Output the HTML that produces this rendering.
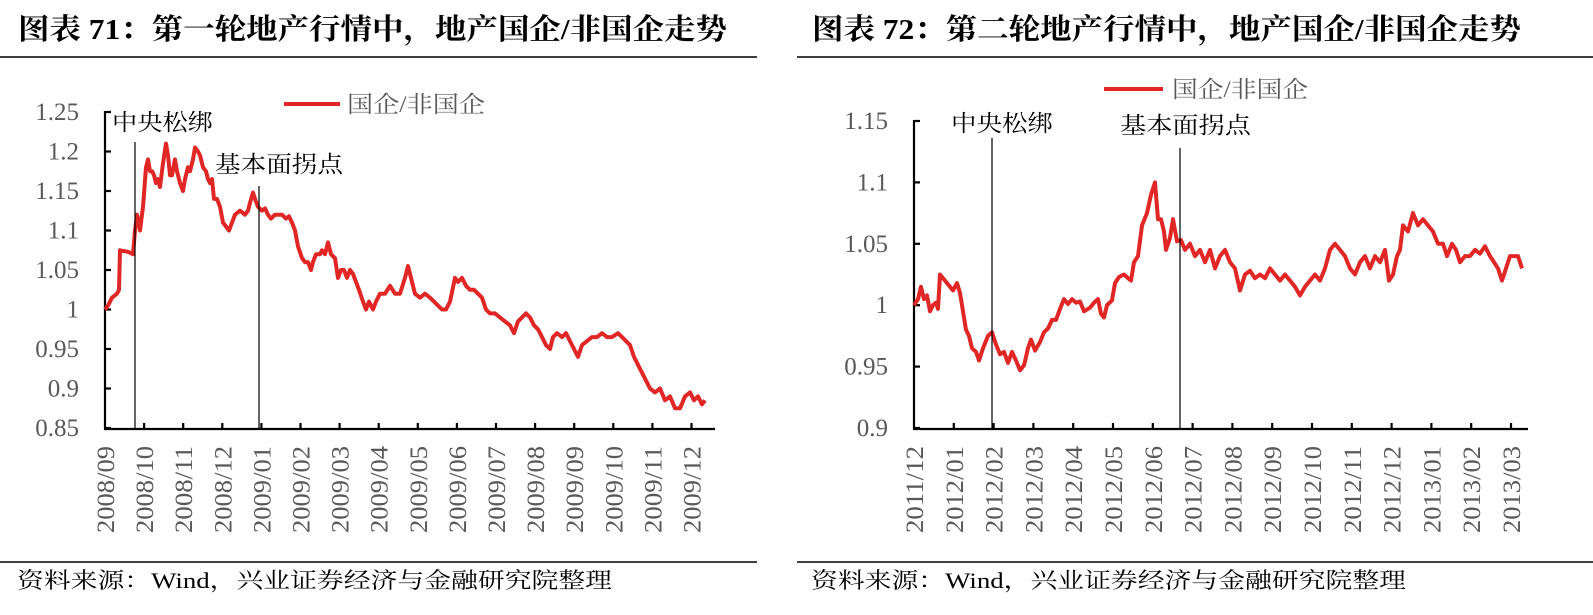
<!DOCTYPE html><html><head><meta charset="utf-8"><style>
body{margin:0;background:#fff;width:1593px;height:615px;overflow:hidden}
svg{display:block}
.t{font-family:"Liberation Serif","Noto Serif CJK SC",serif;font-weight:bold;font-size:29px;fill:#000}
.y{font-family:"Liberation Serif",serif;font-size:25px;fill:#595959}
.x{font-family:"Liberation Serif",serif;font-size:25px;fill:#595959}
.a{font-family:"Liberation Serif","Noto Serif CJK SC",serif;font-size:23px;fill:#000}
.l{font-family:"Liberation Serif","Noto Serif CJK SC",serif;font-size:23px;fill:#595959}
.f{font-family:"Liberation Serif","Noto Serif CJK SC",serif;font-size:22px;fill:#000}
</style></head><body>
<svg id="s" width="1593" height="615" xmlns="http://www.w3.org/2000/svg">
<text class="t" x="18" y="39" textLength="709" lengthAdjust="spacingAndGlyphs">图表 71：第一轮地产行情中，地产国企/非国企走势</text>
<text class="t" x="812" y="39" textLength="709" lengthAdjust="spacingAndGlyphs">图表 72：第二轮地产行情中，地产国企/非国企走势</text>
<line x1="0" y1="57" x2="757" y2="57" stroke="#000" stroke-width="1.5"/>
<line x1="797" y1="57" x2="1593" y2="57" stroke="#000" stroke-width="1.5"/>
<line x1="0" y1="562" x2="757" y2="562" stroke="#000" stroke-width="1.5"/>
<line x1="797" y1="562" x2="1593" y2="562" stroke="#000" stroke-width="1.5"/>
<text class="f" x="17" y="588" textLength="595" lengthAdjust="spacingAndGlyphs">资料来源：Wind，兴业证券经济与金融研究院整理</text>
<text class="f" x="811" y="588" textLength="595" lengthAdjust="spacingAndGlyphs">资料来源：Wind，兴业证券经济与金融研究院整理</text>
<g id="g"></g>
<line x1="284" y1="104" x2="340" y2="104" stroke="#e02726" stroke-width="4"/>
<text class="l" x="347" y="112" textLength="138" lengthAdjust="spacingAndGlyphs">国企/非国企</text>
<line x1="1104" y1="89" x2="1163" y2="89" stroke="#e02726" stroke-width="4"/>
<text class="l" x="1172" y="97" textLength="136" lengthAdjust="spacingAndGlyphs">国企/非国企</text>
<text class="a" x="112" y="130" textLength="101" lengthAdjust="spacingAndGlyphs">中央松绑</text>
<text class="a" x="215" y="172" textLength="128" lengthAdjust="spacingAndGlyphs">基本面拐点</text>
<text class="a" x="951" y="131" textLength="102" lengthAdjust="spacingAndGlyphs">中央松绑</text>
<text class="a" x="1120" y="133" textLength="131" lengthAdjust="spacingAndGlyphs">基本面拐点</text>
<line x1="135" y1="142" x2="135" y2="428" stroke="#000" stroke-width="1.2"/>
<line x1="259" y1="186" x2="259" y2="428" stroke="#000" stroke-width="1.2"/>
<line x1="992" y1="138" x2="992" y2="428" stroke="#000" stroke-width="1.2"/>
<line x1="1180" y1="148" x2="1180" y2="428" stroke="#000" stroke-width="1.2"/>
</svg>
<script>
var g=document.getElementById('g'),h='';
function L(a,b,c,d,w){h+='<line x1="'+a+'" y1="'+b+'" x2="'+c+'" y2="'+d+'" stroke="#000" stroke-width="'+(w||2.2)+'"/>';}
function XL(x,t){h+='<text class="x" transform="translate('+(x+9)+',446) rotate(-90)" text-anchor="end" textLength="87" lengthAdjust="spacingAndGlyphs">'+t+'</text>';}
L(105,111,105,429);L(104,429,715,429);
var ly=['1.25','1.2','1.15','1.1','1.05','1','0.95','0.9','0.85'];
for(var i=0;i<9;i++){var y=112+i*39.5;L(105,y,111,y);h+='<text class="y" x="79" y="'+(y+8)+'" text-anchor="end">'+ly[i]+'</text>';}
var lm=['2008/09','2008/10','2008/11','2008/12','2009/01','2009/02','2009/03','2009/04','2009/05','2009/06','2009/07','2009/08','2009/09','2009/10','2009/11','2009/12'];
for(var i=0;i<16;i++){var x=105+i*39.1;if(i>0)L(x,423,x,429);XL(x,lm[i]);}
L(914,120,914,429);L(913,429,1528,429);
var ry=['1.15','1.1','1.05','1','0.95','0.9'];
for(var i=0;i<6;i++){var y=121+i*61.4;L(914,y,920,y);h+='<text class="y" x="888" y="'+(y+8)+'" text-anchor="end">'+ry[i]+'</text>';}
var rm=['2011/12','2012/01','2012/02','2012/03','2012/04','2012/05','2012/06','2012/07','2012/08','2012/09','2012/10','2012/11','2012/12','2013/01','2013/02','2013/03'];
for(var i=0;i<16;i++){var x=914+i*39.8;if(i>0)L(x,423,x,429);XL(x,rm[i]);}
var A=[105,1.0,108,1.005,112,1.015,117,1.02,119,1.025,120,1.075,128,1.073,133,1.07,135,1.10,137,1.12,140,1.10,143,1.13,146,1.18,148,1.19,150,1.175,152,1.175,154,1.17,156,1.16,158,1.165,160,1.155,163,1.185,166,1.21,168,1.195,170,1.17,172,1.17,175,1.19,177,1.175,180,1.16,183,1.15,185,1.165,188,1.18,190,1.175,193,1.19,195,1.205,198,1.2,200,1.195,203,1.18,206,1.175,208,1.165,210,1.16,212,1.165,214,1.14,217,1.14,220,1.13,223,1.11,226,1.105,229,1.10,232,1.11,235,1.12,240,1.125,245,1.12,248,1.125,250,1.135,253,1.148,255,1.14,258,1.13,262,1.125,265,1.128,268,1.12,271,1.115,275,1.12,282,1.12,286,1.115,289,1.118,292,1.11,295,1.10,298,1.08,302,1.065,305,1.06,308,1.06,311,1.05,313,1.06,316,1.07,320,1.07,322,1.075,325,1.07,328,1.085,331,1.07,335,1.065,338,1.04,341,1.05,344,1.05,347,1.04,350,1.05,353,1.045,356,1.035,359,1.025,363,1.01,366,1.0,369,1.01,373,1.0,376,1.01,380,1.02,385,1.02,390,1.03,395,1.02,400,1.02,405,1.04,408,1.055,411,1.04,415,1.02,420,1.015,425,1.02,430,1.015,434,1.01,438,1.005,442,1.0,446,1.0,450,1.01,455,1.04,458,1.035,462,1.04,466,1.03,470,1.025,474,1.025,478,1.02,482,1.015,486,1.0,490,0.995,495,0.995,500,0.99,505,0.985,510,0.98,514,0.97,518,0.985,522,0.99,526,0.995,530,0.99,534,0.98,538,0.975,542,0.965,546,0.955,550,0.95,553,0.965,557,0.97,562,0.965,566,0.97,570,0.96,574,0.95,578,0.94,582,0.955,587,0.96,592,0.965,597,0.965,602,0.97,607,0.965,612,0.965,618,0.97,622,0.965,626,0.96,630,0.955,634,0.94,638,0.93,642,0.92,646,0.91,650,0.9,655,0.895,660,0.9,665,0.885,670,0.89,675,0.875,680,0.875,685,0.89,690,0.895,694,0.885,698,0.89,702,0.88,705,0.885];
var B=[914,1.0,918,1.005,921,1.015,924,1.005,927,1.008,930,0.995,933,1.0,936,1.002,938,0.997,940,1.025,945,1.02,950,1.015,953,1.012,957,1.018,960,1.01,963,0.995,966,0.98,969,0.975,972,0.965,976,0.962,979,0.955,983,0.965,988,0.975,992,0.978,996,0.968,1000,0.96,1004,0.962,1008,0.953,1012,0.962,1016,0.955,1020,0.947,1024,0.951,1028,0.965,1031,0.972,1035,0.963,1040,0.97,1044,0.978,1048,0.981,1052,0.988,1056,0.988,1060,0.997,1064,1.005,1068,1.001,1072,1.005,1076,1.002,1080,1.003,1084,0.995,1090,0.998,1094,1.002,1098,1.005,1101,0.993,1104,0.99,1107,1.0,1112,1.004,1115,1.018,1119,1.023,1124,1.025,1128,1.022,1131,1.02,1134,1.035,1138,1.04,1142,1.065,1147,1.075,1151,1.09,1155,1.1,1158,1.07,1161,1.07,1164,1.06,1166,1.045,1170,1.055,1173,1.07,1177,1.052,1181,1.053,1185,1.045,1190,1.05,1195,1.04,1200,1.045,1205,1.035,1210,1.045,1215,1.03,1220,1.04,1225,1.045,1230,1.035,1235,1.03,1240,1.012,1245,1.025,1250,1.028,1255,1.022,1260,1.025,1265,1.022,1270,1.03,1275,1.025,1280,1.02,1285,1.025,1290,1.02,1295,1.015,1300,1.008,1305,1.015,1310,1.02,1315,1.025,1320,1.02,1325,1.03,1330,1.045,1335,1.05,1340,1.045,1345,1.04,1350,1.03,1355,1.025,1360,1.035,1365,1.04,1370,1.03,1375,1.04,1380,1.035,1385,1.045,1389,1.02,1393,1.025,1397,1.04,1400,1.045,1403,1.065,1408,1.06,1413,1.075,1418,1.065,1423,1.07,1428,1.065,1433,1.06,1438,1.05,1443,1.05,1447,1.04,1452,1.05,1456,1.045,1460,1.035,1465,1.04,1470,1.04,1475,1.045,1480,1.042,1485,1.048,1490,1.04,1494,1.035,1498,1.03,1502,1.02,1506,1.03,1510,1.04,1514,1.04,1518,1.04,1522,1.03];
function P(d,y0,v0,k){var p=[];for(var i=0;i<d.length;i+=2)p.push(d[i]+','+(y0-(d[i+1]-v0)*k).toFixed(1));h+='<polyline points="'+p.join(' ')+'" fill="none" stroke="#e02726" stroke-width="4" stroke-linejoin="round"/>';}
P(A,428,0.85,790);P(B,428,0.9,1228);
g.innerHTML=h;
</script>
</body></html>
